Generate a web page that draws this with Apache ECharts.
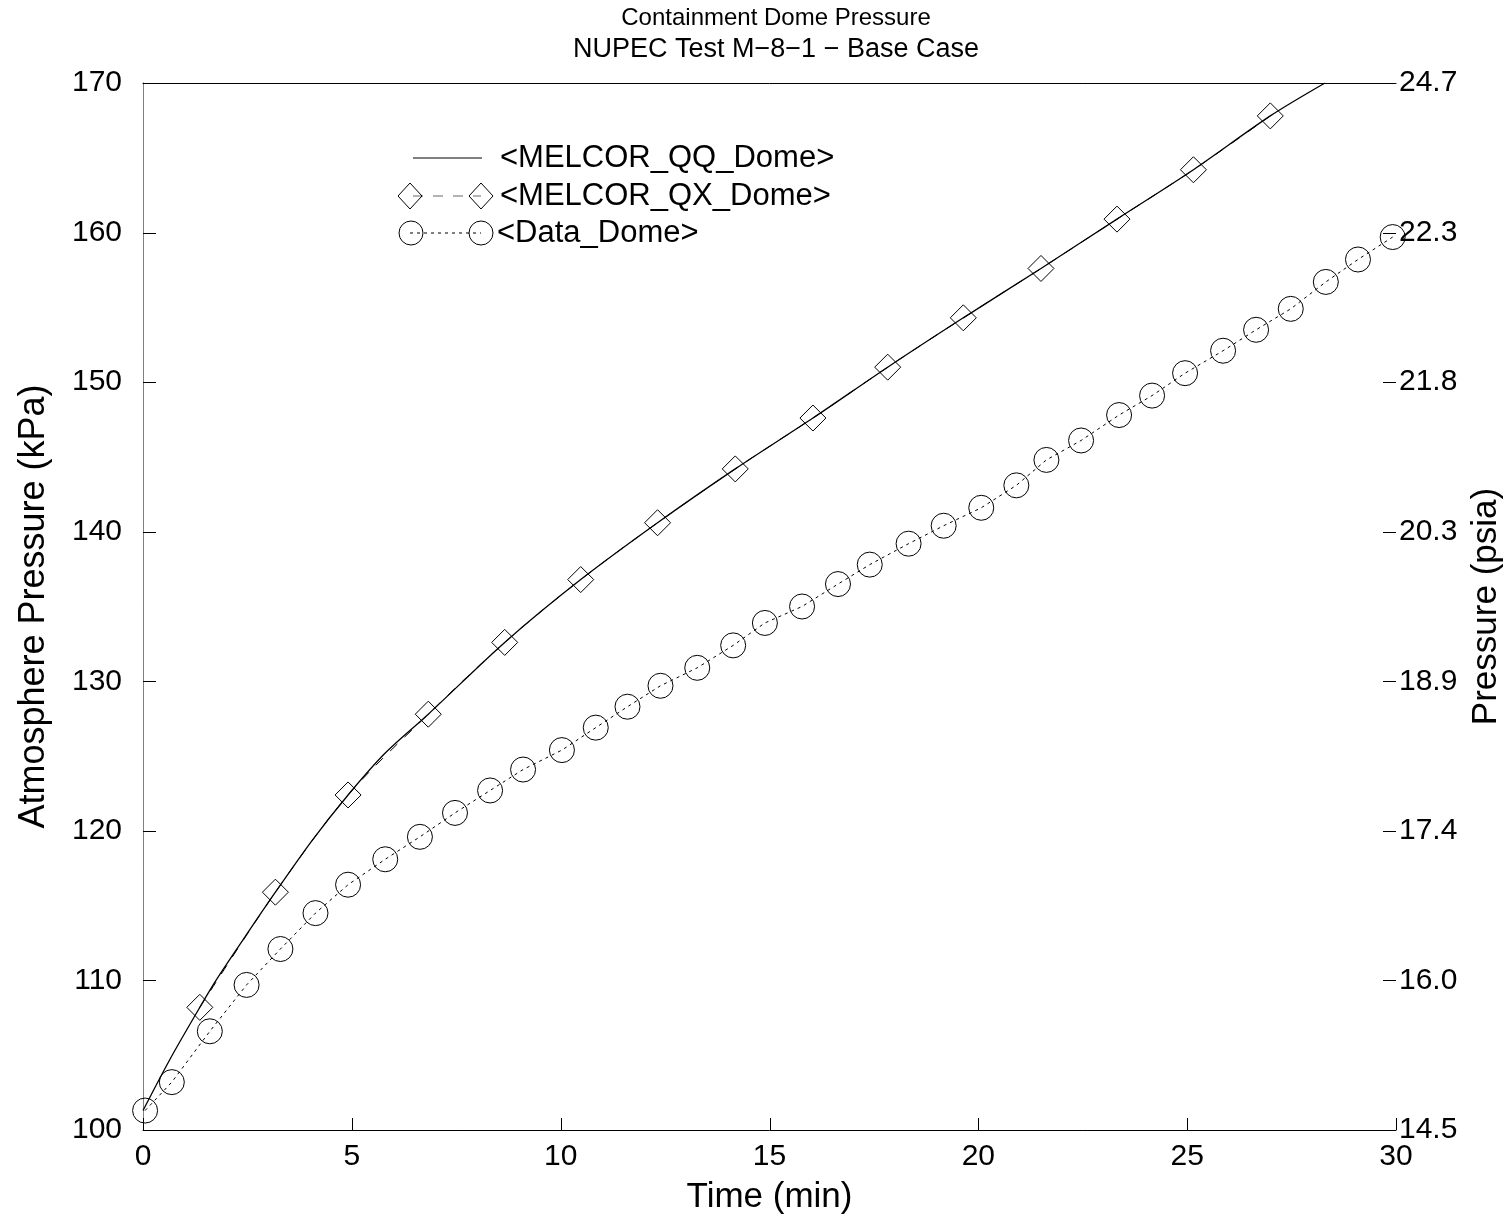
<!DOCTYPE html>
<html>
<head>
<meta charset="utf-8">
<script src="https://cdn.jsdelivr.net/npm/echarts@6/dist/echarts.min.js"></script>
<style>
  html, body { margin: 0; padding: 0; background: #fff; }
  #chart { width: 1512px; height: 1225px; }
</style>
</head>
<body>
<div id="chart"></div>
<script>
// MELCOR QQ run (solid curve), minutes / kPa
const qqTime = [0, 0.64, 1.36, 1.77, 2.39, 3.17, 4.06, 4.91, 5.8, 6.83, 8.66, 10.48, 12.32, 14.18, 16.04, 17.83, 19.64, 21.5, 23.32, 25.15, 26.99, 28.3];
const qqPress = [101.3, 104.7, 108.2, 110.1, 112.7, 115.9, 119.4, 122.4, 125.2, 127.8, 132.6, 136.8, 140.6, 144.2, 147.6, 151.0, 154.3, 157.6, 160.9, 164.2, 167.8, 170.0];

// MELCOR QX run (diamond markers)
const qxTime = [1.36, 3.17, 4.91, 6.83, 8.66, 10.48, 12.32, 14.18, 16.04, 17.83, 19.64, 21.5, 23.32, 25.15, 26.99];
const qxPress = [108.2, 115.9, 122.4, 127.8, 132.6, 136.8, 140.6, 144.2, 147.6, 151.0, 154.3, 157.6, 160.9, 164.2, 167.8];

// Measured dome pressure (circle markers)
const dataTime = [0.05, 0.69, 1.6, 2.48, 3.29, 4.13, 4.91, 5.8, 6.63, 7.47, 8.31, 9.1, 10.03, 10.84, 11.6, 12.39, 13.27, 14.13, 14.89, 15.78, 16.64, 17.4, 18.33, 19.17, 20.07, 20.91, 21.63, 22.46, 23.37, 24.16, 24.95, 25.86, 26.65, 27.48, 28.32, 29.09, 29.92];
const dataPress = [101.3, 103.2, 106.6, 109.7, 112.1, 114.5, 116.4, 118.1, 119.6, 121.2, 122.7, 124.1, 125.4, 126.9, 128.3, 129.7, 130.9, 132.4, 133.9, 135.0, 136.5, 137.8, 139.2, 140.4, 141.6, 143.1, 144.8, 146.1, 147.8, 149.1, 150.6, 152.1, 153.5, 154.9, 156.7, 158.2, 159.7];

// Axis ticks
const timeTicks = [0, 5, 10, 15, 20, 25, 30];
const kpaTicks = [100, 110, 120, 130, 140, 150, 160, 170];
const psiaLabels = ['14.5', '16.0', '17.4', '18.9', '20.3', '21.8', '22.3', '24.7'];

const seriesNames = ['<MELCOR_QQ_Dome>', '<MELCOR_QX_Dome>', '<Data_Dome>'];

const zip = (xs, ys) => xs.map((x, i) => [x, ys[i]]);
const FONT = '"Liberation Sans", Arial, Helvetica, sans-serif';

const chart = echarts.init(document.getElementById('chart'), null, { renderer: 'canvas' });

const xMin = timeTicks[0], xMax = timeTicks[timeTicks.length - 1];
const yMin = kpaTicks[0], yMax = kpaTicks[kpaTicks.length - 1];

// Legend block (line samples with end markers, then the series name)
const legendX = 410, legendX2 = 481, legendTextX = 500;
const legendY = [158, 196, 233];
const legendFont = '31px ' + FONT;
const diamond = (cx, cy) => ({
  type: 'polygon',
  shape: { points: [[cx - 12, cy], [cx, cy - 13], [cx + 12, cy], [cx, cy + 13]] },
  style: { fill: 'none', stroke: '#000', lineWidth: 1 }
});
const legendText = (x, y, text) => ({
  type: 'text', x, y,
  style: { text, font: legendFont, fill: '#000', textVerticalAlign: 'middle' }
});
const legendGraphics = [
  { type: 'line', shape: { x1: 413, y1: legendY[0], x2: 482, y2: legendY[0] }, style: { stroke: '#000', lineWidth: 1 } },
  legendText(legendTextX, legendY[0], seriesNames[0]),
  { type: 'line', shape: { x1: legendX, y1: legendY[1], x2: legendX2, y2: legendY[1] }, style: { stroke: '#666', lineWidth: 1, lineDash: [10, 10], lineDashOffset: -3 } },
  diamond(legendX, legendY[1]),
  diamond(legendX2, legendY[1]),
  legendText(legendTextX, legendY[1], seriesNames[1]),
  { type: 'line', shape: { x1: legendX, y1: legendY[2], x2: legendX2, y2: legendY[2] }, style: { stroke: '#000', lineWidth: 1, lineDash: [3, 4] } },
  { type: 'circle', shape: { cx: legendX + 1, cy: legendY[2], r: 12 }, style: { fill: 'none', stroke: '#000', lineWidth: 1 } },
  { type: 'circle', shape: { cx: legendX2, cy: legendY[2], r: 12 }, style: { fill: 'none', stroke: '#000', lineWidth: 1 } },
  legendText(legendTextX - 3, legendY[2], seriesNames[2])
];

const option = {
  animation: false,
  backgroundColor: '#ffffff',
  title: {
    text: 'Containment Dome Pressure',
    subtext: 'NUPEC Test M\u22128\u22121 \u2212 Base Case',
    left: 771,
    top: 1,
    textAlign: 'center',
    itemGap: 6,
    textStyle: { fontFamily: FONT, fontSize: 24, fontWeight: 'normal', color: '#000' },
    subtextStyle: { fontFamily: FONT, fontSize: 27, color: '#000' }
  },
  grid: { left: 143, right: 112, top: 83, bottom: 95, containLabel: false },
  xAxis: [{
    type: 'value',
    min: xMin, max: xMax, interval: 5,
    name: 'Time (min)', nameLocation: 'middle', nameGap: 50,
    nameTextStyle: { fontFamily: FONT, fontSize: 35, color: '#000' },
    axisLine: { show: true, lineStyle: { color: '#000', width: 1 } },
    axisTick: { show: false },
    axisLabel: { fontFamily: FONT, fontSize: 30, color: '#000', margin: 12 },
    splitLine: { show: false }
  }, {
    type: 'value', position: 'top',
    min: xMin, max: xMax,
    axisLine: { show: true, onZero: false, lineStyle: { color: '#000', width: 1 } },
    axisTick: { show: false }, axisLabel: { show: false }, splitLine: { show: false }
  }],
  yAxis: [{
    type: 'value',
    min: yMin, max: yMax, interval: 10,
    name: 'Atmosphere Pressure (kPa)', nameLocation: 'middle', nameGap: 91,
    nameTextStyle: { fontFamily: FONT, fontSize: 36, color: '#000' },
    axisLine: { show: true, lineStyle: { color: '#808080', width: 1 } },
    axisTick: { show: false },
    axisLabel: { fontFamily: FONT, fontSize: 30, color: '#000', margin: 21 },
    splitLine: { show: false }
  }, {
    type: 'value', position: 'right',
    min: yMin, max: yMax, interval: 10,
    name: 'Pressure (psia)', nameLocation: 'middle', nameGap: 73,
    nameTextStyle: { fontFamily: FONT, fontSize: 35, color: '#000' },
    axisLine: { show: true, lineStyle: { color: '#808080', width: 1 } },
    axisTick: { show: false },
    axisLabel: {
      fontFamily: FONT, fontSize: 30, color: '#000', margin: 3,
      formatter: v => psiaLabels[kpaTicks.indexOf(Math.round(v))]
    },
    splitLine: { show: false }
  }],
  series: [{
    name: seriesNames[1],
    type: 'line',
    data: zip(qxTime, qxPress),
    smooth: 0.3,
    symbol: 'diamond',
    symbolSize: [26, 26],
    showAllSymbol: true,
    itemStyle: { color: 'rgba(0,0,0,0)', borderColor: '#000', borderWidth: 1 },
    lineStyle: { color: '#000', width: 1, type: [10, 10] },
    z: 2
  }, {
    name: seriesNames[0],
    type: 'line',
    data: zip(qqTime, qqPress),
    smooth: 0.3,
    symbol: 'none',
    clip: true,
    lineStyle: { color: '#000', width: 1.3 },
    z: 3
  }, {
    name: seriesNames[2],
    type: 'line',
    data: zip(dataTime, dataPress),
    symbol: 'circle',
    symbolSize: 25,
    showAllSymbol: true,
    itemStyle: { color: 'rgba(0,0,0,0)', borderColor: '#000', borderWidth: 1 },
    lineStyle: { color: '#000', width: 1, type: [3, 4] },
    z: 4
  }],
  graphic: legendGraphics
};

chart.setOption(option);

// Inward-pointing tick marks, placed through the grid's own scales
const toPx = pt => chart.convertToPixel({ xAxisIndex: 0, yAxisIndex: 0 }, pt);
const crisp = v => Math.round(v) + 0.5;
const tickLine = (x1, y1, x2, y2) => ({
  type: 'line', z: 10, silent: true,
  shape: { x1, y1, x2, y2 },
  style: { stroke: '#000', lineWidth: 1 }
});
const tickGraphics = [];
timeTicks.forEach(t => {
  const [px, py] = toPx([t, yMin]);
  tickGraphics.push(tickLine(crisp(px), py, crisp(px), py - 12));
});
kpaTicks.forEach(v => {
  const [lx, py] = toPx([xMin, v]);
  const [rx] = toPx([xMax, v]);
  tickGraphics.push(tickLine(lx, crisp(py), lx + 13, crisp(py)));
  tickGraphics.push(tickLine(rx - 13, crisp(py), rx, crisp(py)));
});

chart.setOption({ graphic: legendGraphics.concat(tickGraphics) });
</script>
</body>
</html>
